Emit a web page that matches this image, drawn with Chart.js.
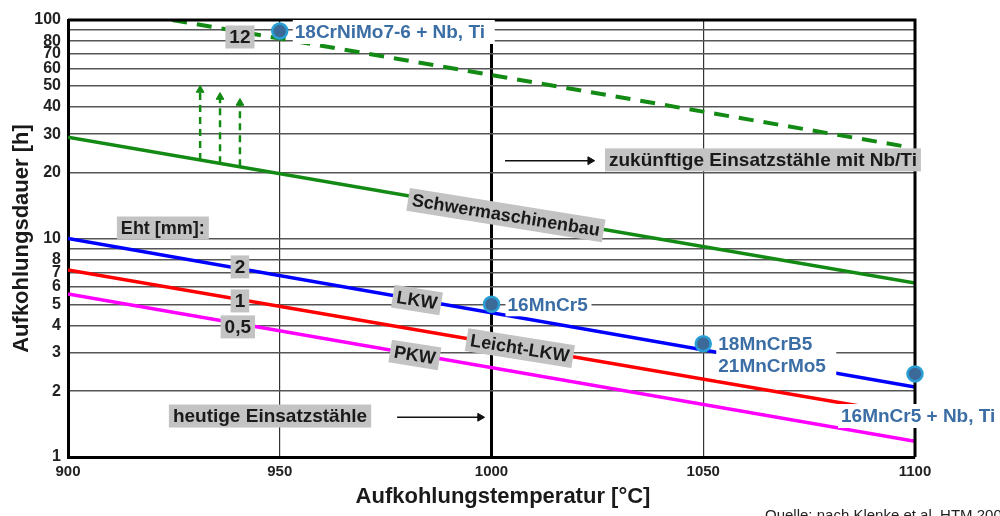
<!DOCTYPE html>
<html>
<head>
<meta charset="utf-8">
<script src="https://cdn.jsdelivr.net/npm/chart.js@4"></script>
<style>
  html, body { margin: 0; padding: 0; background: #fff; }
  #wrap { width: 1000px; height: 516px; }
</style>
</head>
<body>
<div id="wrap"><canvas id="chart" width="1000" height="516"></canvas></div>
<script>
// x axis: carburizing temperature, y axis: carburizing time (log)
const xTicks = [900, 950, 1000, 1050, 1100];
const yGrid = [1, 2, 3, 4, 5, 6, 7, 8, 9, 10, 20, 30, 40, 50, 60, 70, 80, 90, 100];
const yLabels = [1, 2, 3, 4, 5, 6, 7, 8, 10, 20, 30, 40, 50, 60, 70, 80, 100];

const lineTemps = [900, 1100];
const eht2 = [10, 2.09];     // LKW
const eht1 = [7.17, 1.55];   // Leicht-LKW
const eht05 = [5.57, 1.18];  // PKW
const schwer = [29.1, 6.26]; // Schwermaschinenbau

const futureTemps = [924.6, 1097];
const future12 = [100, 26.5];

const steelTemps = [950, 1000, 1050, 1100];
const steelHours = [89, 5.0, 3.3, 2.4];

const upTemps = [931.2, 935.9, 940.6];
const upFrom = [22.9, 22.1, 21.4];
const upTo = [47.8, 44.4, 41.7];

const pairs = (xs, ys) => xs.map((v, i) => ({ x: v, y: ys[i] }));

const green = '#138a13';
const datasets = [
    { data: pairs(lineTemps, schwer), borderColor: green, borderWidth: 3.5 },
    { data: pairs(lineTemps, eht2), borderColor: '#0000ff', borderWidth: 3.5 },
    { data: pairs(lineTemps, eht1), borderColor: '#ff0000', borderWidth: 3.5 },
    { data: pairs(lineTemps, eht05), borderColor: '#ff00ff', borderWidth: 3.5 },
    { data: pairs(futureTemps, future12), borderColor: green, borderWidth: 4, borderDash: [15, 10] }
];

upTemps.forEach((t, i) => {
    datasets.push({
        data: [{ x: t, y: upFrom[i] }, { x: t, y: upTo[i] }],
        borderColor: green, borderWidth: 2.5, borderDash: [7, 5],
        pointRadius: [0, 4.5], pointStyle: 'triangle',
        pointBackgroundColor: green, pointBorderColor: green, pointBorderWidth: 1
    });
});

// horizontal black arrows
[[977.7, 997.3, 1.52], [1003.2, 1023.3, 22.7]].forEach(a => {
    datasets.push({
        data: [{ x: a[0], y: a[2] }, { x: a[1], y: a[2] }],
        borderColor: '#111', borderWidth: 1.5,
        pointRadius: [0, 4.5], pointStyle: 'triangle', pointRotation: 90,
        pointBackgroundColor: '#111', pointBorderColor: '#111', pointBorderWidth: 1
    });
});

const boxLabels = [
    { text: '12', t: 940.6, h: 83.6, size: 19 },
    { text: 'Eht [mm]:', t: 922.4, h: 11.17, size: 18 },
    { text: '2', t: 940.6, h: 7.41, size: 19 },
    { text: '1', t: 940.6, h: 5.18, size: 19 },
    { text: '0,5', t: 940.1, h: 3.94, size: 19 },
    { text: 'heutige Einsatzstähle', t: 947.7, h: 1.54, size: 19 },
    { text: 'zukünftige Einsatzstähle mit Nb/Ti', t: 1064.1, h: 22.9, size: 19 }
];
const slantLabels = [
    { text: 'Schwermaschinenbau', t: 1003.4, h: 12.8 },
    { text: 'LKW', t: 982.4, h: 5.23 },
    { text: 'Leicht-LKW', t: 1006.7, h: 3.15 },
    { text: 'PKW', t: 981.9, h: 2.93 }
];
// steel names next to the points (white background)
const steelLabels = [
    { lines: ['18CrNiMo7-6 + Nb, Ti'], t: 950, h: 89, dx: 15, box: [-2, 202] },
    { lines: ['16MnCr5'], t: 1000, h: 5.0, dx: 16, box: [-2, 86] },
    { lines: ['18MnCrB5', '21MnCrMo5'], t: 1050, h: 3.3, dx: 15, box: [-2, 120] },
    { lines: ['16MnCr5 + Nb, Ti'], t: 1100, h: 1.54, dx: -74, box: [-3, 165] }
];

const fontFam = '"Liberation Sans", Arial, sans-serif';

const overlay = {
    id: 'overlay',
    afterDatasetsDraw(chart) {
        const { ctx, chartArea: a, scales: { x, y } } = chart;
        ctx.save();
        // top and right frame
        ctx.strokeStyle = '#000';
        ctx.lineWidth = 3;
        ctx.beginPath();
        ctx.moveTo(a.left, a.top);
        ctx.lineTo(a.right, a.top);
        ctx.lineTo(a.right, a.bottom);
        ctx.stroke();

        ctx.textBaseline = 'middle';
        ctx.textAlign = 'center';
        const box = (text, size, cx, cy, angle) => {
            ctx.font = 'bold ' + size + 'px ' + fontFam;
            const w = ctx.measureText(text).width + 8;
            ctx.save();
            ctx.translate(cx, cy);
            ctx.rotate(angle);
            ctx.fillStyle = '#c3c3c3';
            ctx.fillRect(-w / 2, -11.5, w, 23);
            ctx.fillStyle = '#1a1a1a';
            ctx.fillText(text, 0, 1);
            ctx.restore();
        };
        boxLabels.forEach(l => box(l.text, l.size, x.getPixelForValue(l.t), y.getPixelForValue(l.h), 0));

        const ang = Math.atan2(y.getPixelForValue(eht2[1]) - y.getPixelForValue(eht2[0]),
            x.getPixelForValue(lineTemps[1]) - x.getPixelForValue(lineTemps[0])) * 0.92;
        slantLabels.forEach(l => box(l.text, 18, x.getPixelForValue(l.t), y.getPixelForValue(l.h), ang));

        // steel labels
        ctx.font = 'bold 19px ' + fontFam;
        ctx.textAlign = 'left';
        steelLabels.forEach((l, i) => {
            const px = x.getPixelForValue(l.t) + l.dx;
            let py = y.getPixelForValue(l.h);
            if (i === 0) py = 32;
            const n = l.lines.length;
            ctx.fillStyle = '#fff';
            ctx.fillRect(px + l.box[0], py - 12, l.box[1], 24 * n);
            ctx.fillStyle = '#3b6ea5';
            l.lines.forEach((s, k) => ctx.fillText(s, px, py + 1 + k * 22));
        });
        ctx.restore();
    },
    afterDraw(chart) {
        const { ctx, scales: { x, y } } = chart;
        ctx.save();
        // steel points drawn on top of the labels' backgrounds
        steelTemps.forEach((t, i) => {
            ctx.beginPath();
            ctx.arc(x.getPixelForValue(t), y.getPixelForValue(steelHours[i]), 7.5, 0, Math.PI * 2);
            ctx.fillStyle = '#3c6a98';
            ctx.fill();
            ctx.lineWidth = 2.5;
            ctx.strokeStyle = '#2a9fd6';
            ctx.stroke();
        });
        // x axis title, sits a little right of the plot centre
        ctx.font = 'bold 22px ' + fontFam;
        ctx.fillStyle = '#1a1a1a';
        ctx.textBaseline = 'middle';
        ctx.textAlign = 'center';
        ctx.fillText('Aufkohlungstemperatur [°C]', 503, 497);

        ctx.font = '15px ' + fontFam;
        ctx.fillStyle = '#222';
        ctx.textBaseline = 'top';
        ctx.textAlign = 'left';
        ctx.fillText('Quelle: nach Klenke et al. HTM 2006', 765, 508);
        ctx.restore();
    }
};

new Chart(document.getElementById('chart'), {
    type: 'line',
    data: { datasets: datasets.map(d => Object.assign({ pointRadius: 0, fill: false, tension: 0 }, d)) },
    options: {
        responsive: false,
        animation: false,
        events: [],
        layout: { padding: { left: 0, right: 85, top: 20, bottom: 0 } },
        plugins: { legend: { display: false }, tooltip: { enabled: false } },
        scales: {
            x: {
                type: 'linear', min: 900, max: 1100,
                afterBuildTicks: s => { s.ticks = xTicks.map(v => ({ value: v })); },
                afterFit: s => { s.height = 59; },
                border: { color: '#000', width: 3 },
                grid: {
                    drawTicks: false,
                    color: c => c.tick && c.tick.value === 1000 ? '#000' : '#333',
                    lineWidth: c => c.tick && c.tick.value === 1000 ? 3 : 1.2
                },
                ticks: {
                    padding: 6, color: '#222', font: { size: 15, weight: 'bold' },
                    callback: v => String(v)
                },
                title: { display: false }
            },
            y: {
                type: 'logarithmic', min: 1, max: 100,
                afterBuildTicks: s => { s.ticks = yGrid.map(v => ({ value: v })); },
                afterFit: s => { s.width = 68; },
                border: { color: '#000', width: 3 },
                grid: { drawTicks: false, color: '#555', lineWidth: 1.5 },
                ticks: {
                    autoSkip: false, padding: 7, color: '#222',
                    font: { size: 16, weight: 'bold' },
                    callback: v => yLabels.includes(v) ? String(v) : ''
                },
                title: {
                    display: true, text: 'Aufkohlungsdauer [h]', color: '#1a1a1a',
                    font: { size: 22, weight: 'bold' }, padding: { top: 9, bottom: 0 }
                }
            }
        },
        font: { family: fontFam }
    },
    plugins: [overlay]
});
</script>
</body>
</html>
